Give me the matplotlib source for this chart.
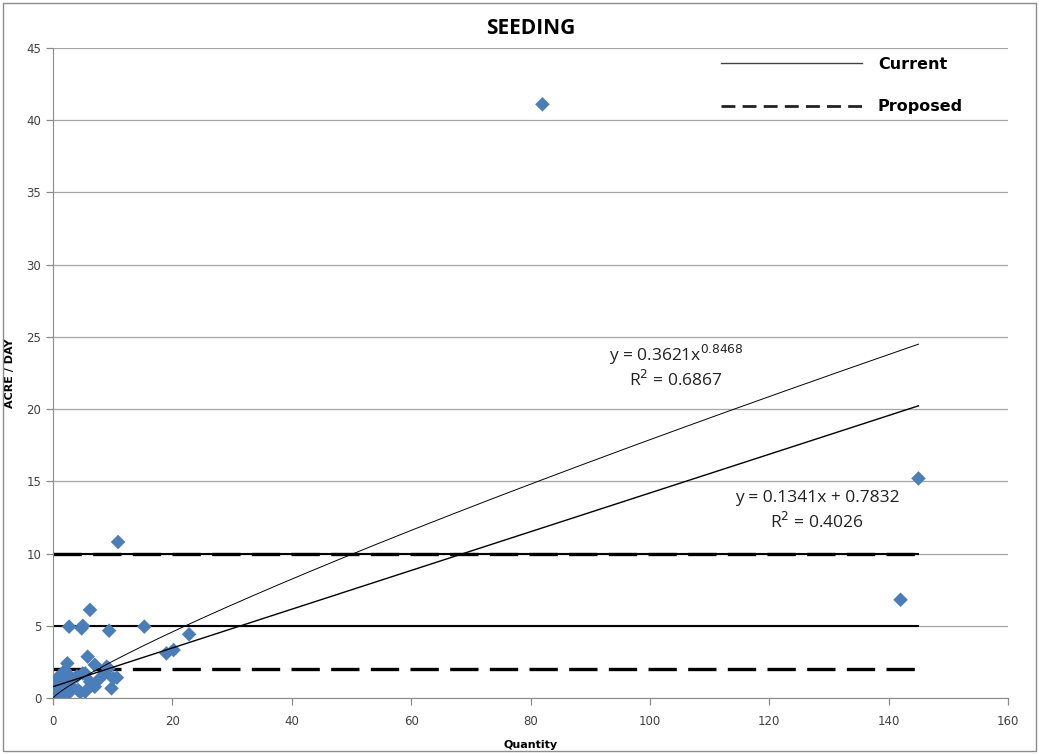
"""
Seeding productivity: acre/day vs quantity with current and proposed rates.
"""
import matplotlib
matplotlib.use("Agg")
import matplotlib.pyplot as plt
import numpy as np

OUT = "out.png"

# observed jobs
qty = [0.1, 0.2, 0.3, 0.3, 0.5, 0.6, 0.8, 0.9, 1.0, 1.2, 1.3, 1.5, 1.8, 2.0,
       2.2, 2.4, 2.6, 2.6, 2.8, 3.0, 3.3, 4.0, 4.2, 4.6, 5.0, 5.4, 5.4, 5.8,
       6.2, 6.5, 7.0, 7.0, 7.6, 8.7, 9.0, 9.3, 9.8, 10.1, 10.7,
       2.7, 4.8, 5.0, 6.2, 9.4, 15.3, 22.8, 19.0, 20.2, 10.9,
       82.0, 142.0, 145.0]
acre = [0.3, 0.0, 0.5, 1.0, 0.2, 0.8, 1.3, 0.6, 1.5, 0.55, 1.1, 1.0, 0.2, 1.9,
        1.3, 2.4, 0.33, 1.6, 0.9, 1.3, 0.7, 1.5, 0.55, 0.4, 1.7, 0.44, 1.7, 2.86,
        1.13, 0.9, 2.3, 0.78, 1.25, 1.71, 2.17, 2.06, 0.67, 1.36, 1.41,
        4.94, 4.82, 5.0, 6.1, 4.66, 4.94, 4.41, 3.09, 3.32, 10.8,
        41.1, 6.8, 15.2]

# reference rates
current_rates = [10, 5]
proposed_rates = [10, 2]
rate_x = [0, 145]

# Excel-style trendlines
pow_a, pow_b, pow_r2 = 0.3621, 0.8468, 0.6867
lin_m, lin_c, lin_r2 = 0.1341, 0.7832, 0.4026

fig = plt.figure(figsize=(10.39, 7.54), dpi=100)
ax = fig.add_axes([53 / 1039, 56 / 754, 955 / 1039, 650 / 754])

# frame round the whole chart
fig.patches.append(plt.Rectangle((0.003, 0.004), 0.994, 0.992, transform=fig.transFigure,
                                 fill=False, edgecolor="#8C8C8C", linewidth=1.0))

ax.yaxis.grid(True, color="#A6A6A6", linewidth=0.9)
ax.set_axisbelow(True)

for r in current_rates:
    ax.plot(rate_x, [r, r], color="black", linewidth=1.5, zorder=2)
for r in proposed_rates:
    ax.plot(rate_x, [r, r], color="black", linewidth=2.4, dashes=(8.5, 3.4), zorder=2)

ax.scatter(qty, acre, marker="D", s=55, color="#4A7EBB", edgecolors="none", zorder=3)

xs = np.linspace(min(qty), max(qty), 400)
ax.plot(xs, pow_a * xs ** pow_b, color="black", linewidth=0.7, zorder=4)
ax.plot(xs, lin_m * xs + lin_c, color="black", linewidth=1.0, zorder=4)

txt = dict(fontsize=12.5, color="#222222", ha="center", va="center", family="Open Sans")
ax.text(104.4, 23.75, f"y = {pow_a}x$^{{{pow_b}}}$", **txt)
ax.text(104.4, 22.0, f"R$^2$ = {pow_r2}", **txt)
ax.text(128.0, 13.85, f"y = {lin_m}x + {lin_c}", **txt)
ax.text(128.0, 12.2, f"R$^2$ = {lin_r2}", **txt)

# legend drawn as plain lines + labels
h1, = ax.plot([], [], color="#444444", linewidth=1.0)
h2, = ax.plot([], [], color="#222222", linewidth=2.0, dashes=(5, 2.6))
ax.legend([h1, h2], ["Current", "Proposed"], loc="upper right",
          bbox_to_anchor=(0.968, 1.009), frameon=False, handlelength=8.8,
          handletextpad=1.0, labelspacing=1.75, prop=dict(weight="bold", size=11.5))

ax.set_xlim(0, 160)
ax.set_ylim(0, 45)
ax.set_xticks(np.arange(0, 161, 20))
ax.set_yticks(np.arange(0, 46, 5))
ax.tick_params(axis="both", labelsize=8.5, labelcolor="#404040", color="#8C8C8C",
               length=5, width=0.9)
ax.tick_params(axis="x", pad=7)
ax.spines[["top", "right"]].set_visible(False)
ax.spines["left"].set_color("#8C8C8C")
ax.spines["bottom"].set_color("#8C8C8C")

ax.set_title("SEEDING", fontsize=15, fontweight="bold", family="Open Sans", pad=10)
ax.set_xlabel("Quantity", fontsize=8, fontweight="bold")
ax.set_ylabel("ACRE / DAY", fontsize=8, fontweight="bold")
ax.xaxis.set_label_coords(0.5, -0.065)
ax.yaxis.set_label_coords(-0.04, 0.5)

plt.savefig(OUT, dpi=100)
print(f"Saved: {OUT}")
